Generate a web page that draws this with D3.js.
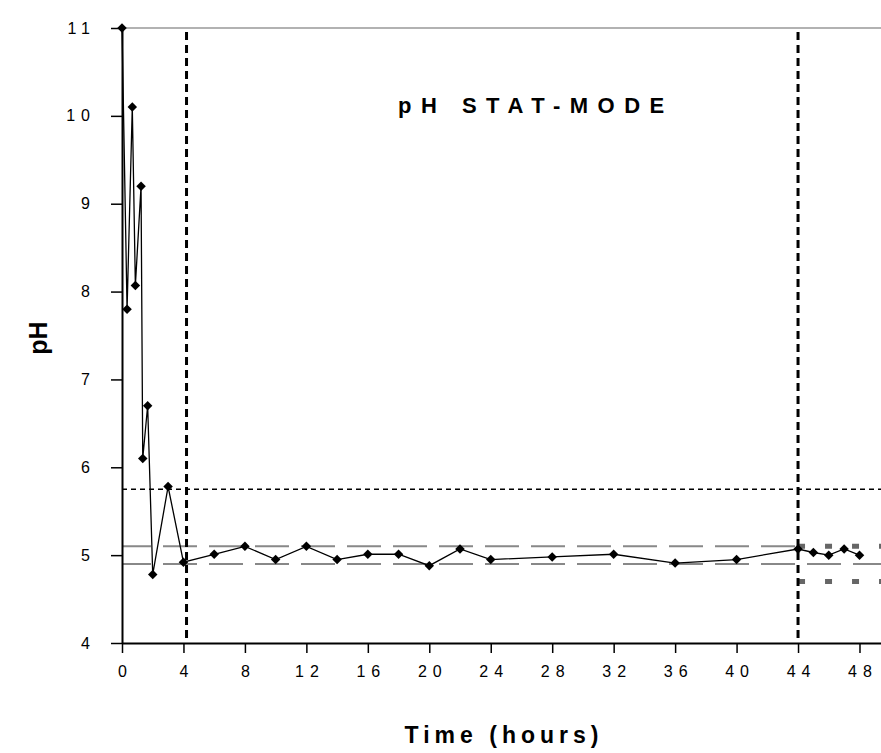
<!DOCTYPE html>
<html>
<head>
<meta charset="utf-8">
<script src="https://cdn.jsdelivr.net/npm/d3@7"></script>
<style>
  body { margin: 0; background: #fff; }
  svg text { font-family: "Liberation Sans", Arial, sans-serif; }
</style>
</head>
<body>
<div class="container"></div>
<script>
var w = 881;
var h = 753;

// data
var hours = [0, 0.33, 0.67, 0.87, 1.24, 1.35, 1.67, 2, 3, 4, 6, 8, 10, 12, 14, 16, 18, 20, 22, 24, 28, 32, 36, 40, 44, 45, 46, 47, 48];
var phValues = [11, 7.8, 10.1, 8.07, 9.2, 6.1, 6.7, 4.78, 5.78, 4.92, 5.01, 5.1, 4.95, 5.1, 4.95, 5.01, 5.01, 4.88, 5.07, 4.95, 4.98, 5.01, 4.91, 4.95, 5.07, 5.03, 5.0, 5.07, 5.0];
var xTicks = [0, 4, 8, 12, 16, 20, 24, 28, 32, 36, 40, 44, 48];
var yTicks = [4, 5, 6, 7, 8, 9, 10, 11];
var phaseMarks = [4.2, 44];     // vertical dashed lines
var setPoint = 5.75;            // dotted line
var band = [5.1, 4.9];          // gray dashed band
var lateBand = [5.1, 4.7];      // heavy gray dots after 44 h

var canvas = d3.select(".container")
  .append("svg")
  .attr("width", w)
  .attr("height", h);

var x = d3.scaleLinear().domain([0, 49.4]).range([122, 881]);
var y = d3.scaleLinear().domain([4, 11]).range([643, 28]);

// top reference line at pH 11
canvas.append("line")
  .attr("x1", x(0)).attr("x2", x(49.4))
  .attr("y1", y(11)).attr("y2", y(11))
  .attr("stroke", "#999").attr("stroke-width", 1.5);

// gray dashed band
canvas.selectAll(".band")
  .data(band)
  .enter().append("line")
  .attr("x1", x(0)).attr("x2", (d, i) => i == 0 ? x(44) : x(49.4))
  .attr("y1", d => y(d)).attr("y2", d => y(d))
  .attr("stroke", "#888").attr("stroke-width", 2)
  .attr("stroke-dasharray", "34,12")
  .attr("stroke-dashoffset", 5);

// heavy gray dots after 44 h
canvas.selectAll(".late")
  .data(lateBand)
  .enter().append("line")
  .attr("x1", x(44)).attr("x2", x(49.4))
  .attr("y1", d => y(d)).attr("y2", d => y(d))
  .attr("stroke", "#666").attr("stroke-width", 5)
  .attr("stroke-dasharray", "7,20");

// set point dotted line
canvas.append("line")
  .attr("x1", x(0)).attr("x2", x(49.4))
  .attr("y1", y(setPoint)).attr("y2", y(setPoint))
  .attr("stroke", "#000").attr("stroke-width", 1.5)
  .attr("stroke-dasharray", "5,4");

// vertical phase lines
canvas.selectAll(".phase")
  .data(phaseMarks)
  .enter().append("line")
  .attr("x1", d => x(d)).attr("x2", d => x(d))
  .attr("y1", y(11) + 4).attr("y2", y(4))
  .attr("stroke", "#000").attr("stroke-width", 3)
  .attr("stroke-dasharray", "8,5");

// axes
var xAxis = canvas.append("g")
  .attr("transform", "translate(0," + y(4) + ")")
  .call(d3.axisBottom(x).tickValues(xTicks).tickFormat(d3.format("d"))
    .tickSize(10).tickPadding(13).tickSizeOuter(0));
var yAxis = canvas.append("g")
  .attr("transform", "translate(" + x(0) + ",0)")
  .call(d3.axisLeft(y).tickValues(yTicks).tickFormat(d3.format("d"))
    .tickSize(11).tickPadding(15).tickSizeOuter(0));

[xAxis, yAxis].forEach(function(g) {
  g.select(".domain").attr("stroke", "#000").attr("stroke-width", 2);
  g.selectAll(".tick line").attr("stroke", "#000").attr("stroke-width", 1.5);
  g.selectAll(".tick text")
    .attr("fill", "#000")
    .style("font-size", "16px")
    .style("letter-spacing", "6px");
});
xAxis.selectAll(".tick text").attr("dx", "3px");

// data line and markers
var pts = hours.map((t, i) => [t, phValues[i]]);
canvas.append("path")
  .datum(pts)
  .attr("fill", "none")
  .attr("stroke", "#000")
  .attr("stroke-width", 1.3)
  .attr("d", d3.line().x(d => x(d[0])).y(d => y(d[1])));

canvas.selectAll(".pt")
  .data(pts)
  .enter().append("path")
  .attr("transform", d => "translate(" + x(d[0]) + "," + y(d[1]) + ") rotate(45)")
  .attr("d", d3.symbol().type(d3.symbolSquare).size(45))
  .attr("fill", "#000");

// texts
canvas.append("text")
  .attr("x", 398).attr("y", 113)
  .style("font-size", "22px").style("font-weight", "bold")
  .style("letter-spacing", "9.5px")
  .text("pH STAT-MODE");

canvas.append("text")
  .attr("x", 504).attr("y", 743)
  .attr("text-anchor", "middle")
  .style("font-size", "23px").style("font-weight", "bold")
  .style("letter-spacing", "5px")
  .text("Time (hours)");

canvas.append("text")
  .attr("transform", "translate(47,338) rotate(-90)")
  .attr("text-anchor", "middle")
  .style("font-size", "25px").style("font-weight", "bold")
  .text("pH");
</script>
</body>
</html>
